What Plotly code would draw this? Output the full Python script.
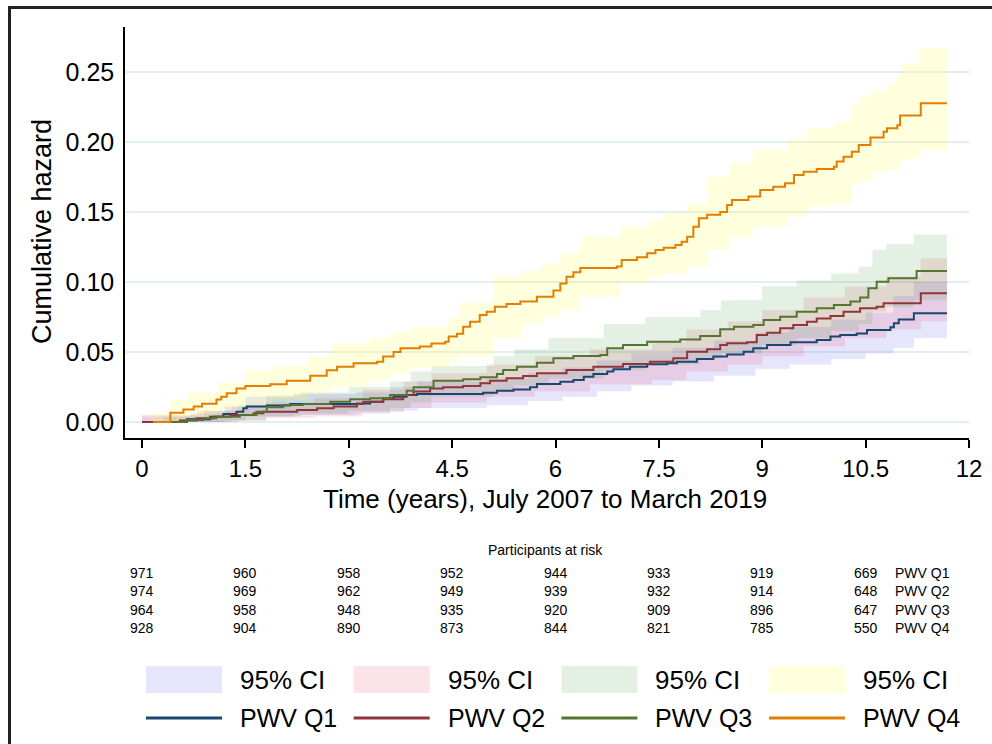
import plotly.graph_objects as go

# ---------------- data ----------------
follow_up_end = 11.68

q1_t = [0.0, 0.65, 0.99, 1.18, 1.37, 1.47, 1.52, 1.81, 2.15, 3.12, 3.31, 3.5, 3.65, 3.84, 3.99, 4.95, 5.15, 5.39, 5.63, 5.73,
        6.07, 6.26, 6.41, 6.55, 6.75, 6.84, 7.08, 7.33, 7.62, 7.76, 8.05, 8.29, 8.49, 8.73, 8.87, 9.07, 9.41, 9.79, 9.99, 10.13,
        10.37, 10.52, 10.86, 10.91, 10.98, 11.2]
q1_h = [0.0, 0.002, 0.0038, 0.0057, 0.0074, 0.0098, 0.011, 0.0117, 0.0129, 0.0133, 0.0145, 0.0169, 0.018, 0.0193, 0.020,
        0.0209, 0.0224, 0.0233, 0.0248, 0.0271, 0.0288, 0.030, 0.0324, 0.0343, 0.036, 0.0376, 0.0395, 0.0412, 0.0419, 0.043,
        0.045, 0.0467, 0.0483, 0.0502, 0.0526, 0.055, 0.0569, 0.0586, 0.061, 0.0621, 0.0633, 0.0657, 0.0676, 0.0705, 0.0733, 0.0776]

q2_t = [0.0, 0.55, 0.79, 1.03, 1.28, 1.62, 1.76, 2.25, 2.54, 2.78, 3.12, 3.21, 3.5, 3.79, 3.94, 4.18, 4.37, 4.66, 4.91, 5.05,
        5.29, 5.53, 5.73, 6.16, 6.55, 6.98, 7.37, 7.71, 7.91, 8.2, 8.39, 8.49, 8.78, 8.92, 9.07, 9.26, 9.45, 9.65, 9.79, 9.99,
        10.18, 10.42, 10.66, 10.76, 11.3]
q2_h = [0.0, 0.001, 0.0026, 0.0038, 0.005, 0.0062, 0.0074, 0.0086, 0.0098, 0.011, 0.0129, 0.0145, 0.0162, 0.0193, 0.0217,
        0.024, 0.0248, 0.0257, 0.0276, 0.0295, 0.0312, 0.0329, 0.0348, 0.0371, 0.0395, 0.0414, 0.043, 0.0455, 0.0502, 0.0519,
        0.055, 0.0562, 0.0569, 0.0621, 0.0638, 0.0669, 0.0693, 0.0716, 0.074, 0.0757, 0.0788, 0.0812, 0.0824, 0.0848, 0.0919]

q3_t = [0.3, 0.65, 0.89, 1.08, 1.42, 1.66, 1.81, 2.05, 2.34, 2.73, 3.02, 3.31, 3.6, 3.84, 3.94, 4.23, 4.66, 4.91, 5.15, 5.24,
        5.44, 5.73, 5.97, 6.26, 6.65, 6.75, 6.98, 7.33, 7.81, 8.1, 8.39, 8.59, 8.87, 9.02, 9.26, 9.5, 9.79, 10.04, 10.28, 10.42,
        10.54, 10.66, 10.83, 11.24]
q3_h = [0.0, 0.0015, 0.0026, 0.0038, 0.005, 0.0074, 0.0105, 0.0121, 0.0129, 0.0145, 0.0162, 0.017, 0.0193, 0.0224, 0.0248,
        0.0295, 0.0305, 0.0319, 0.0343, 0.0371, 0.0395, 0.0424, 0.0455, 0.0471, 0.0479, 0.0526, 0.055, 0.0574, 0.059, 0.0614,
        0.0662, 0.0681, 0.0693, 0.0729, 0.0752, 0.0788, 0.0812, 0.0836, 0.086, 0.089, 0.0955, 0.1002, 0.1026, 0.1079]

q4_t = [0.16, 0.41, 0.6, 0.75, 0.87, 1.08, 1.15, 1.23, 1.37, 1.5, 1.86, 2.1, 2.44, 2.68, 2.83, 3.07, 3.41, 3.5, 3.65, 3.75,
        4.03, 4.2, 4.4, 4.45, 4.57, 4.66, 4.76, 4.9, 5.0, 5.12, 5.29, 5.49, 5.73, 5.97, 6.07, 6.16, 6.26, 6.36, 6.89, 6.96,
        7.18, 7.33, 7.45, 7.57, 7.74, 7.83, 7.91, 8.0, 8.08, 8.2, 8.39, 8.49, 8.56, 8.8, 8.97, 9.16, 9.33, 9.46, 9.6, 9.79,
        10.04, 10.08, 10.18, 10.3, 10.4, 10.57, 10.76, 10.81, 10.96, 11.0, 11.3]
q4_h = [0.0, 0.0066, 0.009, 0.011, 0.013, 0.016, 0.018, 0.0205, 0.024, 0.0257, 0.027, 0.0295, 0.033, 0.037, 0.0395, 0.042,
        0.043, 0.0467, 0.050, 0.0526, 0.054, 0.056, 0.0574, 0.061, 0.063, 0.068, 0.0716, 0.0764, 0.0788, 0.0824, 0.0843, 0.086,
        0.0895, 0.094, 0.099, 0.1038, 0.107, 0.110, 0.111, 0.1157, 0.1176, 0.1205, 0.1229, 0.1245, 0.1264, 0.1288, 0.1324,
        0.1395, 0.1455, 0.148, 0.150, 0.155, 0.1586, 0.161, 0.1657, 0.168, 0.1705, 0.1764, 0.1788, 0.1807, 0.1824, 0.186,
        0.1895, 0.193, 0.1979, 0.2033, 0.2074, 0.2098, 0.212, 0.219, 0.2276]

# 95% confidence bands
q1_ci_t = [0.0, 0.7, 1.2, 1.5, 2.2, 3.1, 3.6, 4.0, 5.0, 5.6, 6.1, 6.6, 7.1, 7.7, 8.3, 8.9, 9.4, 10.0, 10.5, 10.9, 11.2]
q1_lo = [0, 0, 0.001, 0.004, 0.005, 0.006, 0.008, 0.010, 0.012, 0.015, 0.018, 0.022, 0.026, 0.029, 0.033, 0.038, 0.041,
         0.045, 0.049, 0.053, 0.060]
q1_hi = [0.004, 0.006, 0.011, 0.018, 0.020, 0.021, 0.025, 0.029, 0.031, 0.035, 0.039, 0.044, 0.049, 0.053, 0.058, 0.064,
         0.068, 0.073, 0.078, 0.090, 0.100]

q2_ci_t = [0.0, 0.8, 1.3, 1.8, 2.5, 3.2, 3.8, 4.2, 5.0, 5.7, 6.5, 7.4, 7.9, 8.5, 9.0, 9.6, 10.2, 10.8, 11.3]
q2_lo = [0, 0, 0.001, 0.003, 0.004, 0.007, 0.010, 0.014, 0.018, 0.022, 0.027, 0.030, 0.036, 0.041, 0.047, 0.054, 0.060,
         0.066, 0.072]
q2_hi = [0.005, 0.008, 0.011, 0.014, 0.017, 0.023, 0.029, 0.035, 0.041, 0.047, 0.052, 0.057, 0.066, 0.072, 0.080, 0.089,
         0.097, 0.104, 0.117]

q3_ci_t = [0.3, 0.9, 1.4, 1.8, 2.3, 3.0, 3.6, 3.9, 4.2, 5.1, 5.4, 5.9, 6.7, 7.3, 8.1, 8.4, 9.0, 9.5, 10.0, 10.4, 10.6,
           10.8, 11.2]
q3_lo = [0, 0, 0.001, 0.004, 0.006, 0.008, 0.010, 0.014, 0.018, 0.022, 0.026, 0.031, 0.037, 0.041, 0.045, 0.049, 0.055,
         0.060, 0.065, 0.070, 0.079, 0.082, 0.087]
q3_hi = [0.004, 0.008, 0.012, 0.019, 0.021, 0.025, 0.029, 0.036, 0.040, 0.047, 0.052, 0.060, 0.070, 0.075, 0.080, 0.087,
         0.097, 0.101, 0.106, 0.111, 0.123, 0.127, 0.134]

q4_ci_t = [0.1, 0.4, 0.65, 1.1, 1.5, 1.9, 2.4, 2.75, 3.3, 3.6, 3.9, 4.45, 4.6, 5.1, 5.5, 5.8, 6.07, 6.36, 6.94, 7.37,
           7.57, 7.91, 8.2, 8.53, 8.87, 9.36, 9.65, 10.04, 10.3, 10.42, 10.6, 10.81, 10.96, 11.03, 11.29]
q4_lo = [0, 0.0, 0.004, 0.008, 0.012, 0.016, 0.021, 0.025, 0.030, 0.034, 0.039, 0.043, 0.047, 0.060, 0.070, 0.075, 0.080,
         0.0895, 0.099, 0.104, 0.106, 0.111, 0.123, 0.132, 0.1395, 0.147, 0.154, 0.156, 0.170, 0.172, 0.178, 0.180, 0.182,
         0.188, 0.194]
q4_hi = [0.006, 0.016, 0.021, 0.028, 0.037, 0.040, 0.047, 0.056, 0.060, 0.064, 0.068, 0.075, 0.085, 0.104, 0.108, 0.113,
         0.1205, 0.1324, 0.1395, 0.144, 0.149, 0.156, 0.175, 0.185, 0.194, 0.2026, 0.21, 0.2145, 0.2264, 0.232, 0.2367, 0.242,
         0.248, 0.256, 0.267]

series_names = ["PWV Q1", "PWV Q2", "PWV Q3", "PWV Q4"]
line_colors = ["#1a476f", "#90353b", "#55752f", "#e37e00"]
fill_colors = ["rgba(100,100,240,0.17)", "rgba(235,70,100,0.15)", "rgba(60,150,60,0.14)", "rgba(255,255,100,0.22)"]

risk_times = [0, 1.5, 3, 4.5, 6, 7.5, 9, 10.5]
at_risk = [
    [971, 960, 958, 952, 944, 933, 919, 669],
    [974, 969, 962, 949, 939, 932, 914, 648],
    [964, 958, 948, 935, 920, 909, 896, 647],
    [928, 904, 890, 873, 844, 821, 785, 550],
]
x_ticks = [0, 1.5, 3, 4.5, 6, 7.5, 9, 10.5, 12]
x_tick_text = ["0", "1.5", "3", "4.5", "6", "7.5", "9", "10.5", "12"]
y_ticks = [0.0, 0.05, 0.10, 0.15, 0.20, 0.25]
y_tick_text = ["0.00", "0.05", "0.10", "0.15", "0.20", "0.25"]

# ---------------- layout geometry (pixels) ----------------
W_FIG, H_FIG = 992, 744
L, R, T, B = 125, 969, 27, 438
PW, PH = R - L, B - T


def px(x):
    return (x - L) / PW


def py(y):
    return (B - y) / PH


FONT = "Liberation Sans, Arial, Helvetica, sans-serif"

fig = go.Figure()

curves = [(q1_t, q1_h), (q2_t, q2_h), (q3_t, q3_h), (q4_t, q4_h)]
bands = [(q1_ci_t, q1_lo, q1_hi), (q2_ci_t, q2_lo, q2_hi), (q3_ci_t, q3_lo, q3_hi), (q4_ci_t, q4_lo, q4_hi)]

for (bt, lo, hi), fc in zip(bands, fill_colors):
    xs = list(bt) + [follow_up_end]
    fig.add_trace(go.Scatter(x=xs, y=list(lo) + [lo[-1]], mode="lines", line=dict(width=0, shape="hv"),
                             showlegend=False, hoverinfo="skip"))
    fig.add_trace(go.Scatter(x=xs, y=list(hi) + [hi[-1]], mode="lines", line=dict(width=0, shape="hv"),
                             fill="tonexty", fillcolor=fc, showlegend=False, hoverinfo="skip"))

for (ct, ch), lc, nm in zip(curves, line_colors, series_names):
    fig.add_trace(go.Scatter(x=list(ct) + [follow_up_end], y=list(ch) + [ch[-1]], mode="lines",
                             line=dict(color=lc, width=2, shape="hv"), name=nm, showlegend=False))

fig.update_layout(
    width=W_FIG, height=H_FIG,
    margin=dict(l=L, r=W_FIG - R, t=T, b=H_FIG - B, autoexpand=False),
    paper_bgcolor="white", plot_bgcolor="white",
    font=dict(family=FONT, color="black"),
    showlegend=False,
)
fig.update_xaxes(
    range=[-0.247, 12.0], tickvals=x_ticks, ticktext=x_tick_text, ticks="outside", ticklen=8, tickwidth=1.5,
    tickcolor="black", showline=True, linecolor="black", linewidth=1.5, showgrid=False, zeroline=False,
    tickfont=dict(size=24, family=FONT),
)
fig.update_yaxes(
    range=[-0.01143, 0.28214], tickvals=y_ticks, ticktext=y_tick_text, ticks="outside", ticklen=4,
    tickcolor="rgba(0,0,0,0)", showline=True, linecolor="black", linewidth=1.5, showgrid=True,
    gridcolor="#e3eef0", gridwidth=1.5, zeroline=False, tickfont=dict(size=25, family=FONT),
)

ann = []
shapes = []
# axis titles
ann.append(dict(text="Cumulative hazard", x=px(42), y=py(232), xref="paper", yref="paper", textangle=-90,
                showarrow=False, xanchor="center", yanchor="middle", font=dict(size=27, family=FONT)))
ann.append(dict(text="Time (years), July 2007 to March 2019", x=px(545), y=py(499), xref="paper", yref="paper",
                showarrow=False, xanchor="center", yanchor="middle", font=dict(size=26, family=FONT)))

# at-risk table
ann.append(dict(text="Participants at risk", x=px(545), y=py(550), xref="paper", yref="paper", showarrow=False,
                xanchor="center", yanchor="middle", font=dict(size=14, family=FONT)))
for i, row in enumerate(at_risk):
    yy = py(573 + i * 18.3)
    for tt, n in zip(risk_times, row):
        ann.append(dict(text=str(n), x=tt, y=yy, xref="x", yref="paper", showarrow=False, xanchor="center",
                        yanchor="middle", font=dict(size=14, family=FONT)))
    ann.append(dict(text=series_names[i], x=px(893), y=yy, xref="paper", yref="paper", showarrow=False,
                    xanchor="left", yanchor="middle", font=dict(size=14, family=FONT)))

# legend (manual)
pitch = 207.7
for j in range(4):
    x0 = 146 + j * pitch
    shapes.append(dict(type="rect", xref="paper", yref="paper", x0=px(x0), x1=px(x0 + 76), y0=py(693), y1=py(666),
                       fillcolor=fill_colors[j], line=dict(width=0)))
    ann.append(dict(text="95% CI", x=px(x0 + 92), y=py(680), xref="paper", yref="paper", showarrow=False,
                    xanchor="left", yanchor="middle", font=dict(size=26, family=FONT)))
    shapes.append(dict(type="line", xref="paper", yref="paper", x0=px(x0), x1=px(x0 + 76), y0=py(718), y1=py(718),
                       line=dict(color=line_colors[j], width=3)))
    ann.append(dict(text=series_names[j], x=px(x0 + 92), y=py(718), xref="paper", yref="paper", showarrow=False,
                    xanchor="left", yanchor="middle", font=dict(size=25, family=FONT)))

# outer frame
shapes.append(dict(type="rect", xref="paper", yref="paper", x0=px(9.5), x1=px(1010), y0=py(760), y1=py(7.5),
                   line=dict(color="#222222", width=3), fillcolor="rgba(0,0,0,0)", layer="above"))

fig.update_layout(annotations=ann, shapes=shapes)
fig.write_html("out.html", config={"displayModeBar": False},
               post_script="document.body.style.margin='0';document.body.style.padding='0';")
